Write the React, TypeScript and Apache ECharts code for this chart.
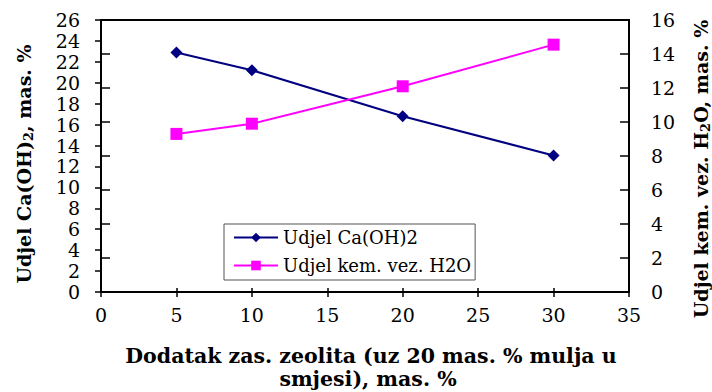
import React, { useEffect, useRef } from "react";
import * as echarts from "echarts";

const xValues = [5, 10, 20, 30];
const caOH2 = [22.9, 21.2, 16.8, 13.05];
const h2o = [9.3, 9.9, 12.1, 14.55];
const seriesNames = ["Udjel Ca(OH)2", "Udjel kem. vez. H2O"];
const xTitleLines = ["Dodatak zas. zeolita (uz 20 mas. % mulja u", "smjesi), mas. %"];
const leftTitle = ["Udjel Ca(OH)", "2", ", mas. %"];
const rightTitle = ["Udjel kem. vez. H", "2", "O, mas. %"];

const FONT = "DejaVu Serif";

export default function App() {
  const ref = useRef<HTMLDivElement>(null);
  useEffect(() => {
    const chart = echarts.init(ref.current!, null, { renderer: "svg" });
    const axisLine = { show: true, lineStyle: { color: "#000", width: 2 } };
    const label = { color: "#000", fontFamily: FONT, fontSize: 19 };
    const titleFont = { fill: "#000", fontFamily: FONT, fontWeight: "bold" as const };
    const rich = {
      a: { ...titleFont, fontSize: 19, lineHeight: 22 },
      s: { ...titleFont, fontSize: 13, lineHeight: 12, verticalAlign: "bottom" as const },
    };
    const yTitle = (parts: string[], x: number, y: number) => ({
      type: "text",
      x,
      y,
      rotation: Math.PI / 2,
      style: {
        text: `{a|${parts[0]}}{s|${parts[1]}}{a|${parts[2]}}`,
        rich,
        align: "center",
        verticalAlign: "middle",
      },
    });
    chart.setOption({
      animation: false,
      backgroundColor: "#fff",
      grid: {
        left: 101,
        right: 83,
        top: 20,
        bottom: 100,
        outerBoundsMode: "none",
        containLabel: false,
        show: true,
        borderColor: "#000",
        borderWidth: 2,
        backgroundColor: "transparent",
      },
      legend: {
        orient: "vertical",
        left: 224,
        top: 224,
        itemGap: 7,
        itemWidth: 44,
        itemHeight: 12,
        padding: [3, 4, 4, 9],
        borderColor: "#555",
        borderWidth: 1,
        backgroundColor: "#fff",
        textStyle: {
          color: "#000",
          fontFamily: FONT,
          fontSize: 18,
          lineHeight: 21,
        },
        data: seriesNames,
      },
      graphic: [
        {
          type: "text",
          x: 371,
          y: 356,
          style: {
            text: xTitleLines[0],
            ...titleFont,
            fontSize: 20.5,
            align: "center",
            verticalAlign: "middle",
          },
        },
        {
          type: "text",
          x: 368,
          y: 379,
          style: {
            text: xTitleLines[1],
            ...titleFont,
            fontSize: 20.5,
            align: "center",
            verticalAlign: "middle",
          },
        },
        yTitle(leftTitle, 24, 164),
        yTitle(rightTitle, 701, 169),
      ],
      xAxis: [
        {
          type: "value",
          min: 0,
          max: 35,
          interval: 5,
          position: "bottom",
          axisLine,
          axisTick: { show: true, length: 5, lineStyle: { color: "#000", width: 1.5 } },
          axisLabel: { ...label, margin: 13 },
          splitLine: { show: false },
        },
        {
          type: "value",
          min: 0,
          max: 35,
          interval: 5,
          position: "bottom",
          axisLine: { show: false },
          axisTick: { show: true, inside: true, length: 4, lineStyle: { color: "#000", width: 1.5 } },
          axisLabel: { show: false },
          splitLine: { show: false },
        },
      ],
      yAxis: [
        {
          type: "value",
          min: 0,
          max: 26,
          interval: 2,
          position: "left",
          axisLine,
          axisTick: { show: true, length: 6, lineStyle: { color: "#000", width: 1.5 } },
          axisLabel: { ...label, margin: 21 },
          splitLine: { show: false },
        },
        {
          type: "value",
          min: 0,
          max: 16,
          interval: 2,
          position: "right",
          axisLine,
          axisTick: { show: true, length: 9, lineStyle: { color: "#000", width: 1.5 } },
          axisLabel: { ...label, margin: 22 },
          splitLine: { show: false },
        },
        {
          type: "value",
          min: 0,
          max: 16,
          interval: 2,
          position: "right",
          axisLine: { show: false },
          axisTick: { show: true, inside: true, length: 9, lineStyle: { color: "#000", width: 1.5 } },
          axisLabel: { show: false },
          splitLine: { show: false },
        },
      ],
      series: [
        {
          name: seriesNames[0],
          type: "line",
          xAxisIndex: 0,
          yAxisIndex: 0,
          data: xValues.map((x, i) => [x, caOH2[i]]),
          symbol: "diamond",
          symbolSize: 12,
          itemStyle: { color: "#000080" },
          lineStyle: { color: "#000080", width: 2 },
        },
        {
          name: seriesNames[1],
          type: "line",
          xAxisIndex: 0,
          yAxisIndex: 1,
          data: xValues.map((x, i) => [x, h2o[i]]),
          symbol: "rect",
          symbolSize: 12,
          itemStyle: { color: "#FF00FF" },
          lineStyle: { color: "#FF00FF", width: 2 },
        },
      ],
    });
    return () => chart.dispose();
  }, []);
  return (
    <div
      ref={ref}
      style={{ position: "fixed", left: 0, top: 0, width: 712, height: 392 }}
    />
  );
}
